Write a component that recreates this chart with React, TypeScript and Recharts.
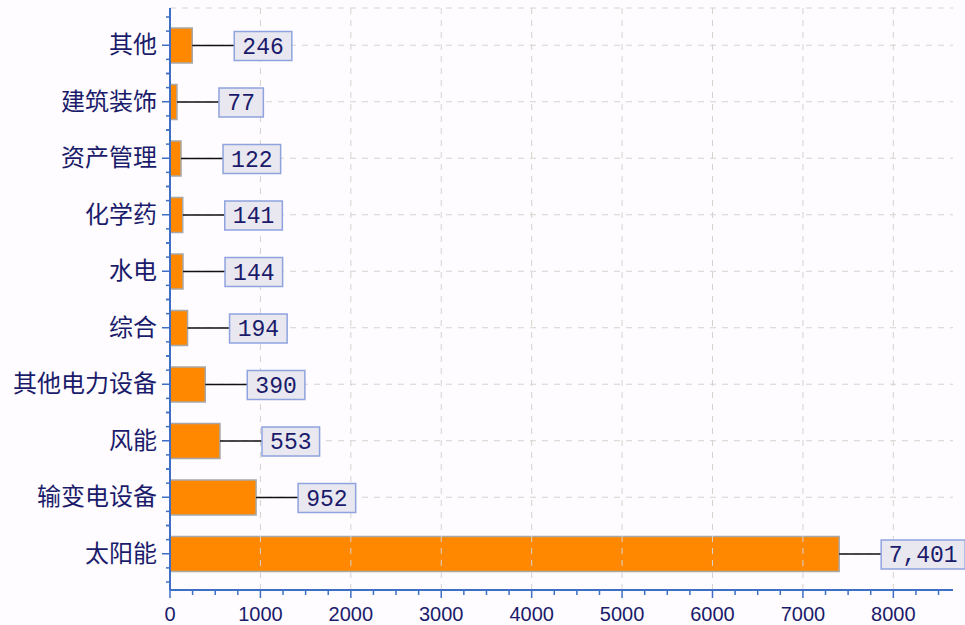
import React from 'react';
import {
  BarChart,
  Bar,
  XAxis,
  YAxis,
  CartesianGrid,
  ReferenceLine,
  LabelList,
} from 'recharts';

const categories = ['其他', '建筑装饰', '资产管理', '化学药', '水电', '综合', '其他电力设备', '风能', '输变电设备', '太阳能'];
const values = [246, 77, 122, 141, 144, 194, 390, 553, 952, 7401];
const xTicks = [0, 1000, 2000, 3000, 4000, 5000, 6000, 7000, 8000];
const minorStep = 250;
const xMax = 8660;

const AXIS = '#3d6fc6';
const NAVY = '#1b1b6b';
const BAND = (625 - 8 - 35 - 9 - 8) / categories.length;

// every 250 along x; labels only on the thousands
const allXTicks: number[] = [];
for (let v = 0; v <= 8500; v += minorStep) allXTicks.push(v);

const data = categories.map((name, i) => ({ name, value: values[i] }));

const YTick = ({ x, y, payload }: any) => (
  <g>
    <line x1={x - 8} x2={x} y1={y} y2={y} stroke={AXIS} strokeWidth={1.5} />
    {[-0.5, -0.25, 0.25, 0.5].map(f => (
      <line key={f} x1={x - 4} x2={x} y1={y + f * BAND} y2={y + f * BAND} stroke={AXIS} strokeWidth={1.5} />
    ))}
    <text
      x={x - 13}
      y={y + 8}
      textAnchor="end"
      fill={NAVY}
      fontSize={24}
      fontFamily="'Noto Sans CJK SC', sans-serif"
    >
      {payload.value}
    </text>
  </g>
);

const XTick = ({ x, y, payload }: any) => {
  const major = xTicks.includes(payload.value);
  return (
    <g>
      <line x1={x} x2={x} y1={y} y2={y + (major ? 8 : 5)} stroke={AXIS} strokeWidth={1.5} />
      {major && (
        <text
          x={x}
          y={y + 31}
          textAnchor="middle"
          fill={NAVY}
          fontSize={20}
          fontFamily="'Liberation Sans', sans-serif"
        >
          {payload.value}
        </text>
      )}
    </g>
  );
};

const ValueLabel = ({ x, y, width, height, value }: any) => {
  const cy = y + height / 2;
  const endX = x + width;
  const text = Number(value).toLocaleString('en-US');
  const boxX = endX + 42;
  const boxW = text.length * 13.2 + 18;
  return (
    <g>
      <line x1={endX} x2={boxX} y1={cy} y2={cy} stroke="#111" strokeWidth={1.5} />
      <rect x={boxX} y={cy - 14} width={boxW} height={29} fill="#e9e7ef" stroke="#8fa3df" strokeWidth={1.5} />
      <text
        x={boxX + boxW / 2}
        y={cy + 8}
        textAnchor="middle"
        fill={NAVY}
        fontSize={23}
        fontFamily="'Liberation Mono', monospace"
      >
        {text}
      </text>
    </g>
  );
};

const App: React.FC = () => {
  return (
    <div style={{ position: 'absolute', left: 0, top: 0, width: 965, height: 625, background: '#fefcfe' }}>
      <BarChart
        width={965}
        height={625}
        data={data}
        layout="vertical"
        margin={{ top: 8, right: 12, bottom: 0, left: 0 }}
      >
        <CartesianGrid vertical={false} stroke="#d6d2ce" strokeDasharray="6 6" />
        {xTicks.slice(1).map(v => (
          <ReferenceLine key={v} x={v} stroke="#d6d2ce" strokeDasharray="6 6" />
        ))}
        <XAxis
          type="number"
          domain={[0, xMax]}
          ticks={allXTicks}
          interval={0}
          height={35}
          tickSize={0}
          tickMargin={0}
          tickLine={false}
          axisLine={{ stroke: AXIS, strokeWidth: 2 }}
          tick={<XTick />}
        />
        <YAxis
          type="category"
          dataKey="name"
          width={170}
          padding={{ top: 9, bottom: 8 }}
          interval={0}
          tickSize={0}
          tickMargin={0}
          tickLine={false}
          axisLine={{ stroke: AXIS, strokeWidth: 2 }}
          tick={<YTick />}
        />
        <Bar dataKey="value" fill="#ff8800" stroke="#a8a8a8" strokeWidth={1.5} barSize={35} isAnimationActive={false}>
          <LabelList dataKey="value" content={<ValueLabel />} />
        </Bar>
      </BarChart>
    </div>
  );
};

export default App;
